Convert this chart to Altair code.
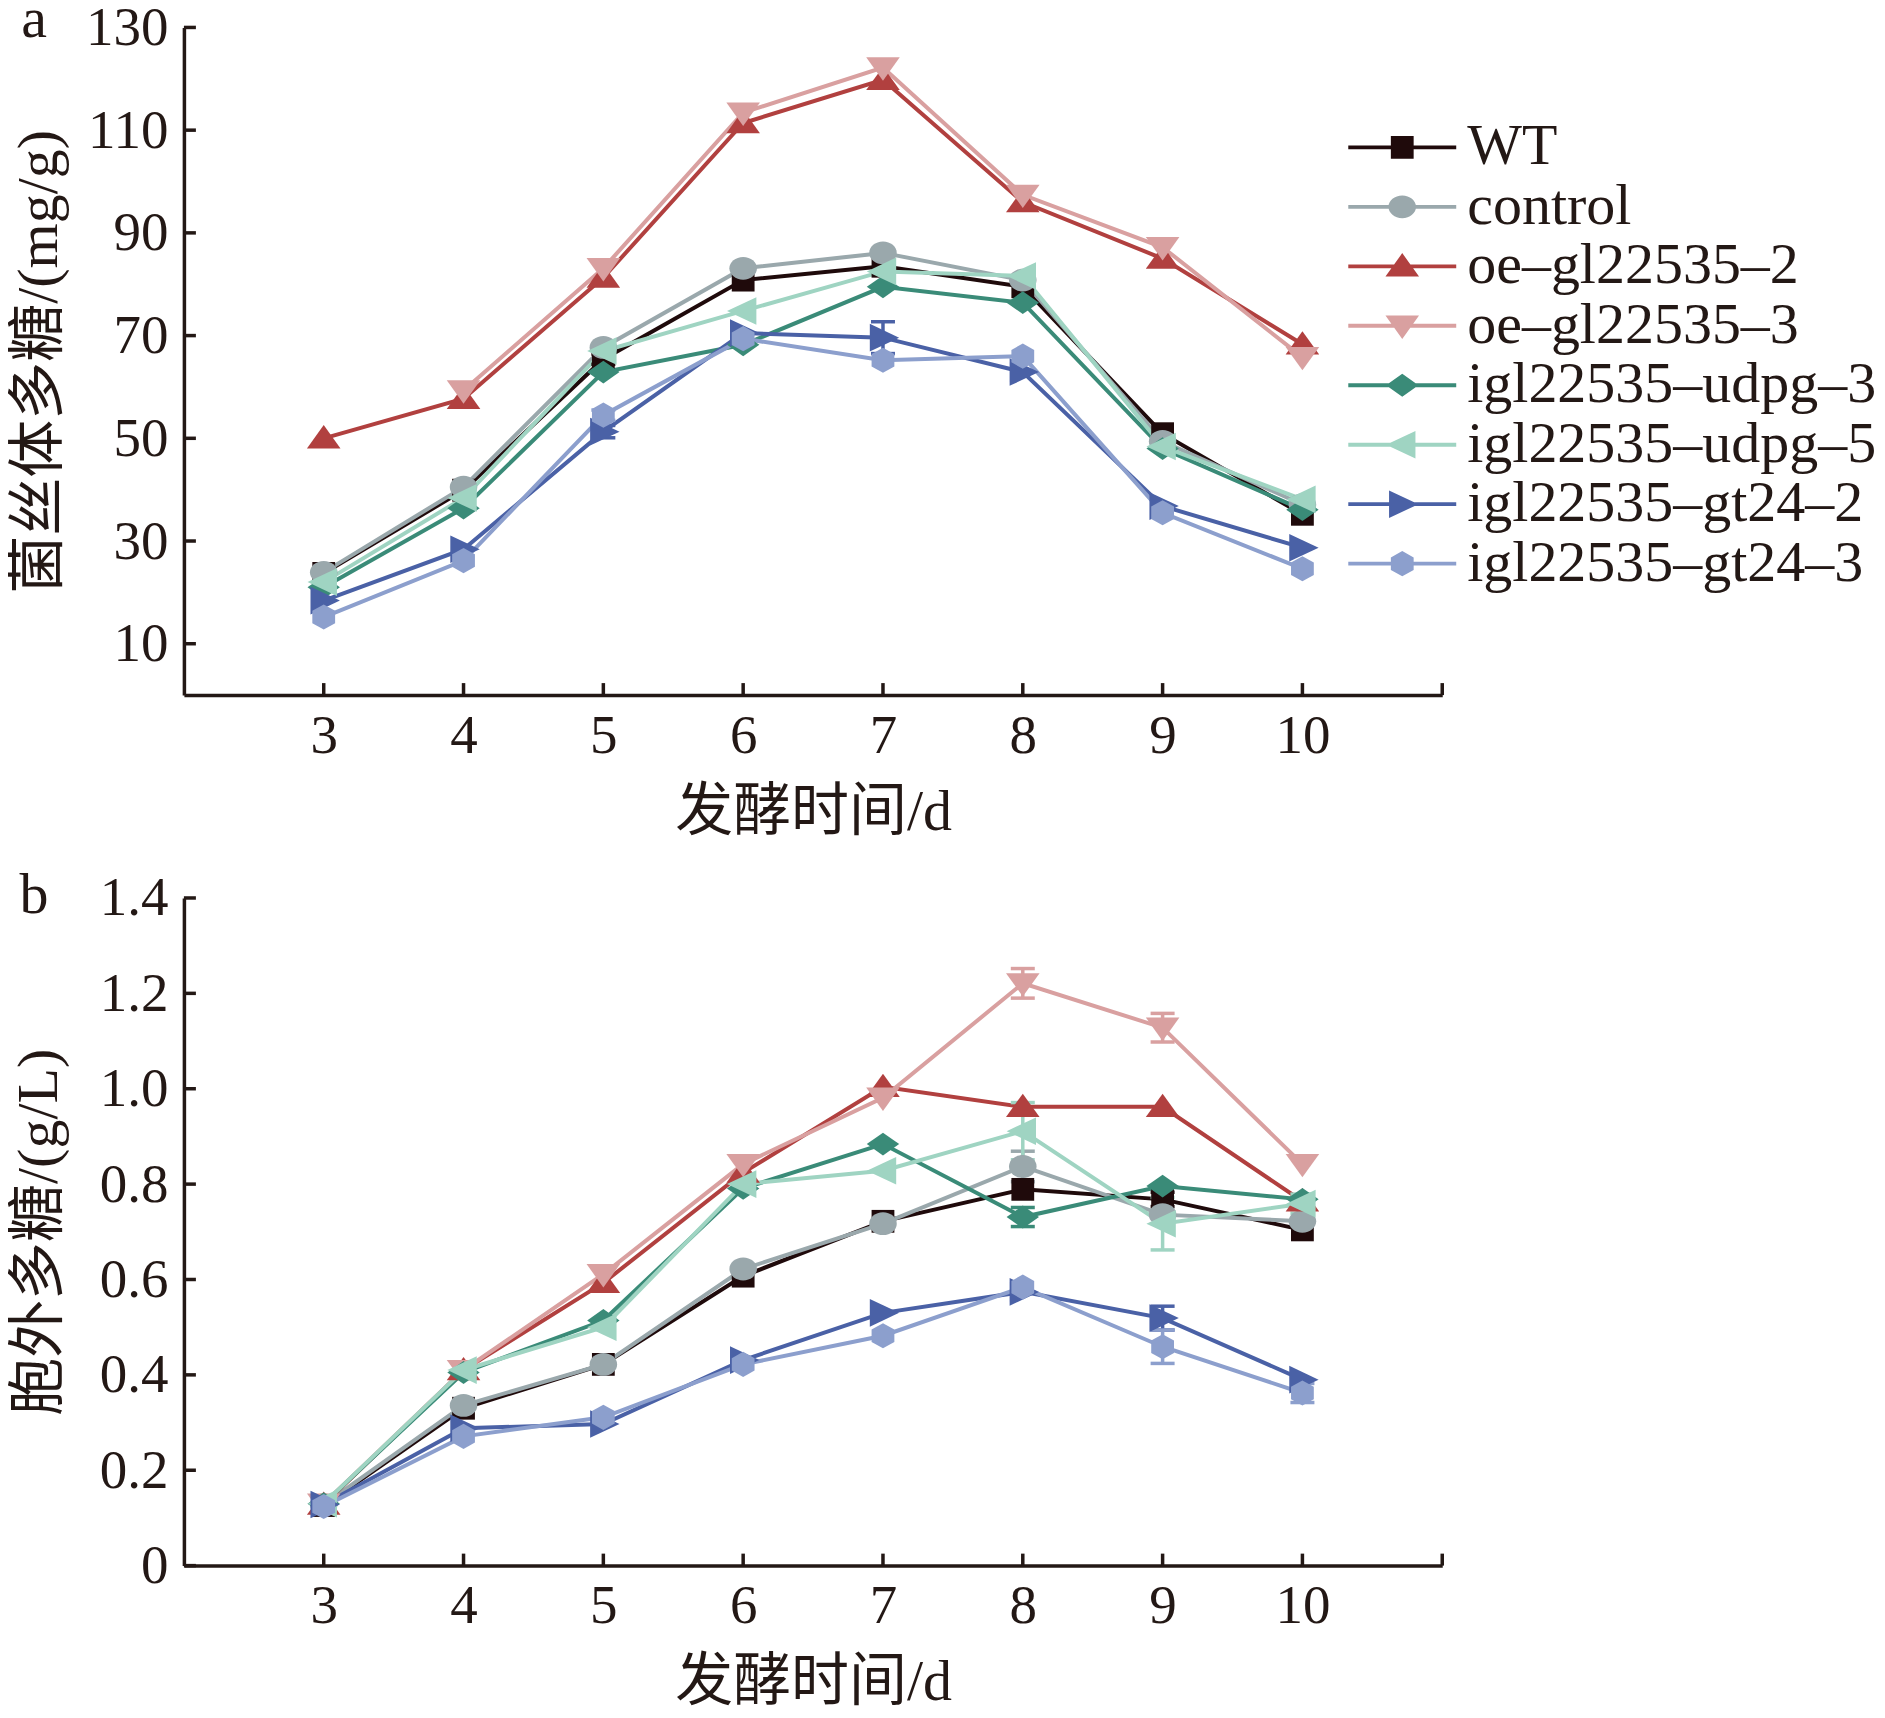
import altair as alt
import pandas as pd

days = [3, 4, 5, 6, 7, 8, 9, 10]
series = ["WT", "control", "oe–gl22535–2", "oe–gl22535–3",
          "igl22535–udpg–3", "igl22535–udpg–5", "igl22535–gt24–2", "igl22535–gt24–3"]
colors = ["#1f0a0b", "#9aa8ac", "#b1403f", "#d9a0a0",
          "#3a8b78", "#9fd4c2", "#4a61a6", "#8c9fcd"]

# panel a: mycelial polysaccharide (mg/g)
a_WT = [23.7, 39.9, 65.4, 80.8, 83.5, 79.5, 50.9, 35.2]
a_control = [23.9, 40.5, 67.7, 83.1, 86.1, 80.8, 49.4, 37.1]
a_oe2 = [50.0, 57.7, 81.3, 111.4, 119.8, 96.0, 85.0, 68.3]
a_oe3 = [None, 59.3, 83.1, 113.4, 122.2, 97.4, 87.2, 65.8]
a_udpg3 = [21.0, 36.4, 62.9, 68.2, 79.5, 76.4, 48.0, 36.1]
a_udpg5 = [22.0, 38.4, 67.0, 74.8, 82.5, 81.6, 48.4, 38.1]
a_gt242 = [18.4, 28.4, 51.3, 70.5, 69.6, 62.9, 36.8, 28.7]
a_gt243 = [15.2, 26.2, 54.5, 69.4, 65.2, 66.0, 35.5, 24.6]

a_err_WT = [0, 0, 1.0, 0, 0, 0, 0, 0]
a_err_control = [0, 0, 0, 0, 0, 0, 0, 0]
a_err_oe2 = [0, 0, 0, 0, 0, 0, 0, 0]
a_err_oe3 = [0, 0, 0, 0, 0, 0, 0, 0]
a_err_udpg3 = [0, 0, 0, 0, 0, 0, 0, 0]
a_err_udpg5 = [0, 0, 0, 0, 0, 0, 0, 0]
a_err_gt242 = [0, 0, 1.2, 0, 3.1, 0, 0, 0]
a_err_gt243 = [0, 0, 1.0, 0, 0, 0, 0, 0]

# panel b: extracellular polysaccharide (g/L)
b_WT = [0.126, 0.33, 0.422, 0.607, 0.722, 0.789, 0.768, 0.704]
b_control = [0.128, 0.336, 0.422, 0.622, 0.717, 0.837, 0.736, 0.722]
b_oe2 = [0.128, 0.41, 0.593, 0.824, 1.004, 0.962, 0.962, 0.764]
b_oe3 = [0.13, 0.41, 0.611, 0.842, 0.981, 1.221, 1.128, 0.842]
b_udpg3 = [0.13, 0.405, 0.514, 0.791, 0.884, 0.731, 0.796, 0.768]
b_udpg5 = [0.13, 0.41, 0.50, 0.80, 0.828, 0.911, 0.717, 0.759]
b_gt242 = [0.128, 0.288, 0.297, 0.431, 0.53, 0.574, 0.519, 0.39]
b_gt243 = [0.124, 0.271, 0.311, 0.422, 0.482, 0.584, 0.459, 0.362]

b_err_WT = [0, 0, 0, 0, 0, 0, 0.015, 0]
b_err_control = [0, 0, 0, 0, 0, 0.032, 0, 0]
b_err_oe2 = [0, 0, 0, 0, 0, 0, 0, 0]
b_err_oe3 = [0, 0, 0, 0, 0, 0.031, 0.03, 0]
b_err_udpg3 = [0, 0, 0, 0, 0, 0.02, 0, 0]
b_err_udpg5 = [0, 0, 0, 0, 0, 0.06, 0.055, 0.02]
b_err_gt242 = [0, 0, 0, 0, 0, 0, 0.025, 0]
b_err_gt243 = [0, 0, 0, 0, 0, 0, 0.035, 0.02]

a_ticks = [10, 30, 50, 70, 90, 110, 130]
b_ticks = [0, 0.2, 0.4, 0.6, 0.8, 1.0, 1.2, 1.4]
x_ticks = [3, 4, 5, 6, 7, 8, 9, 10, 11]

# marker outlines (unit square [-1.4, 1.4]); all drawn clockwise
marks = [
    "M-0.95,-0.95L0.95,-0.95L0.95,0.95L-0.95,0.95Z",
    "M-1.15,0A1.15,0.95 0 1,1 1.15,0A1.15,0.95 0 1,1 -1.15,0Z",
    "M0,-1.1L1.4,0.85L-1.4,0.85Z",
    "M-1.4,-0.85L1.4,-0.85L0,1.1Z",
    "M0,-0.95L1.35,0L0,0.95L-1.35,0Z",
    "M-1.35,0L1.1,-1.15L1.1,1.15Z",
    "M-1.1,-1.15L1.35,0L-1.1,1.15Z",
    "M0,-1.05L0.95,-0.52L0.95,0.52L0,1.05L-0.95,0.52L-0.95,-0.52Z",
]
BAR = "M-4.5,-0.16L4.5,-0.16L4.5,0.16L-4.5,0.16Z"
legend_shapes = [BAR + m for m in marks]
MARK_SIZE = 576

INK = "#231815"
SERIF = "Liberation Serif, Noto Sans CJK SC"
W, H = 1259, 668


def long_df(vals, errs):
    rows = []
    for s, v, e in zip(series, vals, errs):
        for d, val, er in zip(days, v, e):
            rows.append({"day": d, "series": s, "value": val, "err": er})
    return pd.DataFrame(rows)


def panel(vals, errs, ymax, yticks, label_expr, ytitle, letter, letter_y, legend_y):
    df = long_df(vals, errs)
    base = alt.Chart(df).transform_filter("isValid(datum.value)")
    xenc = alt.X("day:Q", scale=alt.Scale(domain=[2, 11], nice=False, zero=False),
                 axis=alt.Axis(values=days, format="d", title="发酵时间/d",
                               labelPadding=14, titleY=117, titleBaseline="middle",
                               titleX=W / 2, titleAlign="center"))
    yenc = alt.Y("value:Q", scale=alt.Scale(domain=[0, ymax], nice=False),
                 axis=alt.Axis(values=yticks, labelExpr=label_expr, title=ytitle,
                               labelPadding=16, titleX=-115, titleY=H / 2,
                               titleAngle=-90, titleAlign="center",
                               titleBaseline="bottom"))

    layers = []
    for s, c in zip(series, colors):
        layers.append(base.transform_filter(alt.datum.series == s).mark_line(
            strokeWidth=4, color=c).encode(x=xenc, y=yenc))

    for s, c in zip(series, colors):
        eb = base.transform_filter(alt.datum.series == s).transform_filter(
            "datum.err > 0").transform_calculate(
            lo="datum.value - datum.err", hi="datum.value + datum.err")
        layers.append(eb.mark_rule(strokeWidth=3.5, color=c).encode(
            x=xenc, y=alt.Y("lo:Q"), y2=alt.Y2("hi:Q")))
        for f in ["hi", "lo"]:
            layers.append(eb.mark_rule(strokeWidth=3.5, color=c, xOffset=-12, x2Offset=12).encode(
                x=xenc, x2=alt.X2("day:Q"), y=alt.Y(f + ":Q")))

    for s, c, shp in zip(series, colors, marks):
        layers.append(base.transform_filter(alt.datum.series == s).mark_point(
            filled=True, opacity=1, shape=shp, size=MARK_SIZE, strokeWidth=0, color=c).encode(
            x=xenc, y=yenc))

    leg = alt.Legend(title=None, orient="none", legendX=1190, legendY=legend_y,
                     labelFont=SERIF, labelFontSize=58, labelColor=INK, labelLimit=0,
                     symbolSize=MARK_SIZE, symbolOpacity=1, symbolStrokeWidth=0,
                     labelOffset=36, symbolOffset=0, rowPadding=1.5, padding=0)
    layers.append(base.mark_point(filled=True, opacity=0).encode(
        x=xenc, y=yenc,
        color=alt.Color("series:N", scale=alt.Scale(domain=series, range=colors), legend=leg),
        shape=alt.Shape("series:N", scale=alt.Scale(domain=series, range=legend_shapes),
                        legend=leg)))

    layers.append(alt.Chart(pd.DataFrame({"day": x_ticks})).mark_rule(
        strokeWidth=3.5, color=INK).encode(x=xenc, y=alt.value(H), y2=alt.value(H - 12)))
    layers.append(alt.Chart(pd.DataFrame({"value": yticks})).mark_rule(
        strokeWidth=3.5, color=INK).encode(y=yenc, x=alt.value(0), x2=alt.value(12)))

    layers.append(alt.Chart(pd.DataFrame({"t": [letter]})).mark_text(
        font=SERIF, fontSize=58, color=INK, align="center", baseline="alphabetic").encode(
        text="t:N", x=alt.value(-150), y=alt.value(letter_y)))

    return alt.layer(*layers).properties(width=W, height=H)


pa = panel([a_WT, a_control, a_oe2, a_oe3, a_udpg3, a_udpg5, a_gt242, a_gt243],
           [a_err_WT, a_err_control, a_err_oe2, a_err_oe3, a_err_udpg3, a_err_udpg5,
            a_err_gt242, a_err_gt243],
           130, a_ticks, "format(datum.value, 'd')", "菌丝体多糖/(mg/g)", "a", 10, 91)
pb = panel([b_WT, b_control, b_oe2, b_oe3, b_udpg3, b_udpg5, b_gt242, b_gt243],
           [b_err_WT, b_err_control, b_err_oe2, b_err_oe3, b_err_udpg3, b_err_udpg5,
            b_err_gt242, b_err_gt243],
           1.4, b_ticks, "datum.value == 0 ? '0' : format(datum.value, '.1f')",
           "胞外多糖/(g/L)", "b", 15, 83)

chart = alt.vconcat(pa, pb, spacing=26).properties(
    padding={"top": -17, "left": 3, "right": 0, "bottom": 0},
    background="white"
).configure_view(stroke=None).configure_axis(
    grid=False, ticks=False, domainColor=INK, domainWidth=3.5,
    labelFont=SERIF, labelFontSize=55, labelColor=INK,
    titleFont=SERIF, titleFontSize=58, titleFontWeight="normal", titleColor=INK
)

chart.save("out.html", embed_options={"renderer": "svg", "actions": False})
